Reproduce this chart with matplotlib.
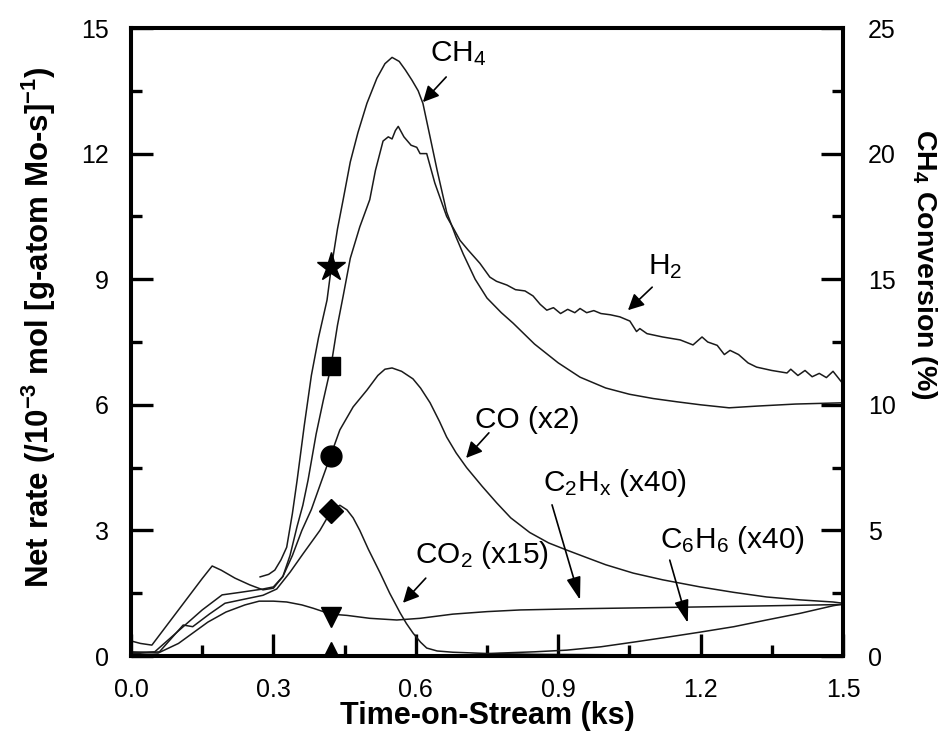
import matplotlib
matplotlib.use('Agg')
import matplotlib.pyplot as plt
from matplotlib.ticker import MultipleLocator, FormatStrFormatter

plt.rcParams['font.family'] = ['Liberation Sans', 'DejaVu Sans']
plt.rcParams['mathtext.fontset'] = 'custom'
plt.rcParams['mathtext.rm'] = 'Liberation Sans'
plt.rcParams['mathtext.bf'] = 'Liberation Sans:bold'
plt.rcParams['mathtext.it'] = 'Liberation Sans:italic'

# CH4 conversion (%), right axis
t_ch4 = [0.272, 0.29, 0.303, 0.316, 0.328, 0.34, 0.35, 0.365, 0.38, 0.395, 0.413, 0.421,
         0.435, 0.447, 0.462, 0.478, 0.497, 0.518, 0.535, 0.55, 0.565, 0.578, 0.592, 0.605,
         0.615, 0.63, 0.645, 0.665, 0.685, 0.70, 0.725, 0.75, 0.78, 0.805, 0.85, 0.9, 0.946,
         1.0, 1.05, 1.1, 1.15, 1.2, 1.26, 1.32, 1.4, 1.5]
ch4_conv = [3.15, 3.25, 3.42, 3.83, 4.33, 5.67, 7.0, 9.17, 11.17, 12.67, 14.17, 15.33,
            17.0, 18.17, 19.67, 20.83, 22.0, 23.0, 23.58, 23.83, 23.67, 23.33, 22.92, 22.5,
            22.0, 20.67, 19.33, 17.67, 16.67, 16.0, 15.0, 14.25, 13.67, 13.25, 12.42, 11.67, 11.1,
            10.67, 10.42, 10.25, 10.12, 10.0, 9.88, 9.95, 10.03, 10.08]

# net rates, left axis
t_h2 = [0.0, 0.02, 0.044, 0.08, 0.12, 0.15, 0.171, 0.19, 0.219, 0.25, 0.278, 0.30, 0.32,
        0.335, 0.35, 0.362, 0.373, 0.39, 0.405, 0.421, 0.435, 0.447, 0.462, 0.482, 0.503,
        0.515, 0.531, 0.542, 0.55, 0.557, 0.563, 0.575, 0.59, 0.602, 0.609, 0.623, 0.64,
        0.665, 0.68, 0.693, 0.71, 0.735, 0.756, 0.77, 0.792, 0.81, 0.83, 0.847, 0.862, 0.876,
        0.89, 0.905, 0.92, 0.935, 0.946, 0.96, 0.975, 0.99, 1.01, 1.03, 1.051, 1.065, 1.072,
        1.087, 1.12, 1.157, 1.184, 1.203, 1.215, 1.235, 1.25, 1.262, 1.28, 1.3, 1.318, 1.35,
        1.382, 1.39, 1.405, 1.42, 1.435, 1.45, 1.465, 1.479, 1.5]
h2_rate = [0.36, 0.3, 0.26, 0.8, 1.4, 1.85, 2.15, 2.05, 1.86, 1.7, 1.58, 1.62, 1.9,
           2.4, 3.1, 3.6, 4.2, 5.3, 6.1, 6.9, 7.9, 8.6, 9.5, 10.25, 10.9,
           11.6, 12.3, 12.4, 12.35, 12.55, 12.65, 12.4, 12.2, 12.15, 12.0, 12.0, 11.3,
           10.5, 10.2, 9.93, 9.7, 9.38, 9.05, 8.95, 8.86, 8.75, 8.72, 8.6, 8.4, 8.26,
           8.32, 8.18, 8.28, 8.2, 8.3, 8.2, 8.25, 8.18, 8.15, 8.1, 8.0, 7.75, 7.82,
           7.7, 7.62, 7.55, 7.43, 7.62, 7.5, 7.42, 7.2, 7.3, 7.2, 7.0, 6.9, 6.82,
           6.76, 6.85, 6.7, 6.82, 6.67, 6.75, 6.65, 6.8, 6.5]

t_co = [0.0, 0.05, 0.1, 0.15, 0.192, 0.23, 0.278, 0.30, 0.32, 0.34, 0.36, 0.38, 0.402,
        0.421, 0.44, 0.468, 0.497, 0.52, 0.535, 0.55, 0.57, 0.594, 0.61, 0.63, 0.65, 0.665,
        0.685, 0.707, 0.74, 0.771, 0.80, 0.84, 0.88, 0.918, 0.96, 1.0, 1.058, 1.12, 1.199,
        1.27, 1.339, 1.41, 1.479, 1.5]
co_rate = [0.08, 0.1, 0.6, 1.1, 1.46, 1.52, 1.6, 1.65, 1.9, 2.4, 3.0, 3.5, 4.2,
           4.8, 5.4, 5.95, 6.35, 6.7, 6.85, 6.88, 6.8, 6.62, 6.4, 6.05, 5.6, 5.23,
           4.85, 4.5, 4.05, 3.65, 3.3, 2.95, 2.7, 2.53, 2.35, 2.18, 1.98, 1.82, 1.65,
           1.52, 1.41, 1.34, 1.29, 1.26]

t_co2 = [0.0, 0.06, 0.11, 0.13, 0.165, 0.198, 0.24, 0.278, 0.307, 0.335, 0.363, 0.398,
         0.421, 0.44, 0.455, 0.468, 0.482, 0.5, 0.525, 0.545, 0.567, 0.58, 0.594, 0.61,
         0.623, 0.645, 0.678, 0.75, 0.85, 1.0, 1.2, 1.5]
co2_rate = [0.05, 0.1, 0.74, 0.7, 1.0, 1.26, 1.36, 1.45, 1.6, 2.0, 2.45, 3.0,
            3.45, 3.6, 3.49, 3.3, 3.0, 2.55, 1.98, 1.5, 1.03, 0.78, 0.55, 0.33,
            0.19, 0.12, 0.09, 0.06, 0.04, 0.03, 0.02, 0.02]

t_c2hx = [0.0, 0.057, 0.1, 0.162, 0.2, 0.24, 0.27, 0.3, 0.328, 0.36, 0.384, 0.421, 0.455,
          0.503, 0.56, 0.609, 0.678, 0.75, 0.82, 0.95, 1.13, 1.3, 1.5]
c2hx_rate = [0.1, 0.07, 0.3, 0.81, 1.05, 1.22, 1.31, 1.31, 1.29, 1.22, 1.14, 1.0, 0.97,
             0.9, 0.86, 0.9, 1.0, 1.06, 1.1, 1.13, 1.16, 1.19, 1.23]

t_c6h6 = [0.0, 0.3, 0.6, 0.7, 0.777, 0.85, 0.918, 0.99, 1.058, 1.13, 1.199, 1.27, 1.339,
          1.41, 1.479, 1.5]
c6h6_rate = [0.0, 0.0, 0.0, 0.02, 0.07, 0.1, 0.14, 0.22, 0.33, 0.45, 0.57, 0.7, 0.86,
             1.02, 1.2, 1.24]

# symbol key placed at t = 0.42 ks
mark_t = 0.421
mark_ch4 = 15.47
mark_rates = {'s': 6.92, 'o': 4.78, 'D': 3.46, 'v': 0.93, '^': 0.1}

lc = '#1a1a1a'
fig = plt.figure(figsize=(9.49, 7.37), dpi=100)
ax = fig.add_axes([131/949, 1-656/737, (843-131)/949, (656-28)/737])
ax2 = ax.twinx()

for t, r in [(t_h2, h2_rate), (t_co, co_rate), (t_co2, co2_rate),
             (t_c2hx, c2hx_rate), (t_c6h6, c6h6_rate)]:
    ax.plot(t, r, color=lc, lw=1.1)
ax2.plot(t_ch4, ch4_conv, color=lc, lw=1.1)

msize = {'s': 13, 'o': 15, 'D': 12, 'v': 14, '^': 14}
for m, y in mark_rates.items():
    ax.plot([mark_t], [y], marker=m, ms=msize[m], color='k', ls='none', zorder=5)
ax2.plot([mark_t], [mark_ch4], marker='*', ms=21, color='k', ls='none', zorder=5)

ax.set_xlim(0, 1.5)
ax.set_ylim(0, 15)
ax2.set_ylim(0, 25)

ax.xaxis.set_major_locator(MultipleLocator(0.3))
ax.xaxis.set_minor_locator(MultipleLocator(0.15))
ax.xaxis.set_major_formatter(FormatStrFormatter('%.1f'))
ax.yaxis.set_major_locator(MultipleLocator(3))
ax.yaxis.set_minor_locator(MultipleLocator(1.5))
ax2.yaxis.set_major_locator(MultipleLocator(5))
ax2.yaxis.set_minor_locator(MultipleLocator(2.5))

ax.tick_params(which='both', direction='in', top=False, right=False, labelsize=18, width=2.4)
ax.tick_params(which='major', length=16)
ax.tick_params(which='minor', length=8)
ax.tick_params(axis='x', pad=16)
ax.tick_params(axis='y', pad=16)
ax2.tick_params(which='both', direction='in', labelsize=18, width=2.4, pad=18)
ax2.tick_params(which='major', length=16)
ax2.tick_params(which='minor', length=8)

for a in (ax, ax2):
    for s in a.spines.values():
        s.set_linewidth(2.9)

ax.set_xlabel('Time-on-Stream (ks)', fontsize=22, fontweight='bold')
ax.set_ylabel(r'Net rate (/10$^\mathbf{-3}$ mol [g-atom Mo-s]$^\mathbf{-1}$)',
              fontsize=22.5, fontweight='bold')
ax2.set_ylabel(r'CH$_\mathbf{4}$ Conversion (%)', fontsize=20.5, fontweight='bold',
               rotation=-90)
for lab in (ax.xaxis.label, ax.yaxis.label, ax2.yaxis.label):
    lab.set_verticalalignment('center')
    lab.set_horizontalalignment('center')
ax.xaxis.set_label_coords(0.5, -0.095)
ax.yaxis.set_label_coords(-0.129, 0.524)
ax2.yaxis.set_label_coords(1.114, 0.624)

# labels and arrows
txt = dict(fontsize=21.5, ha='left', va='center')
ax.text(0.629, 14.4, r'CH$_4$', **txt)
ax.text(1.089, 9.3, r'H$_2$', **txt)
ax.text(0.725, 5.64, 'CO (x2)', **txt)
ax.text(0.598, 2.41, r'CO$_2$ (x15)', **txt)
ax.text(0.868, 4.13, r'C$_2$H$_\mathrm{x}$ (x40)', **txt)
ax.text(1.114, 2.77, r'C$_6$H$_6$ (x40)', **txt)

short = dict(arrowstyle='-|>', color='k', lw=1.2, mutation_scale=24, shrinkA=0, shrinkB=0)
thin = dict(arrowstyle='-|>,head_length=0.7,head_width=0.22', color='k', lw=1.2,
            mutation_scale=20, shrinkA=0, shrinkB=0)
ax.annotate('', xy=(0.615, 13.23), xytext=(0.664, 13.83), arrowprops=short)
ax.annotate('', xy=(1.047, 8.26), xytext=(1.098, 8.81), arrowprops=short)
ax.annotate('', xy=(0.706, 4.73), xytext=(0.754, 5.33), arrowprops=short)
ax.annotate('', xy=(0.573, 1.27), xytext=(0.621, 1.86), arrowprops=short)
ax.annotate('', xy=(0.946, 1.34), xytext=(0.887, 3.61), arrowprops=thin)
ax.annotate('', xy=(1.173, 0.79), xytext=(1.135, 2.29), arrowprops=thin)

fig.savefig('out.png', dpi=100)
